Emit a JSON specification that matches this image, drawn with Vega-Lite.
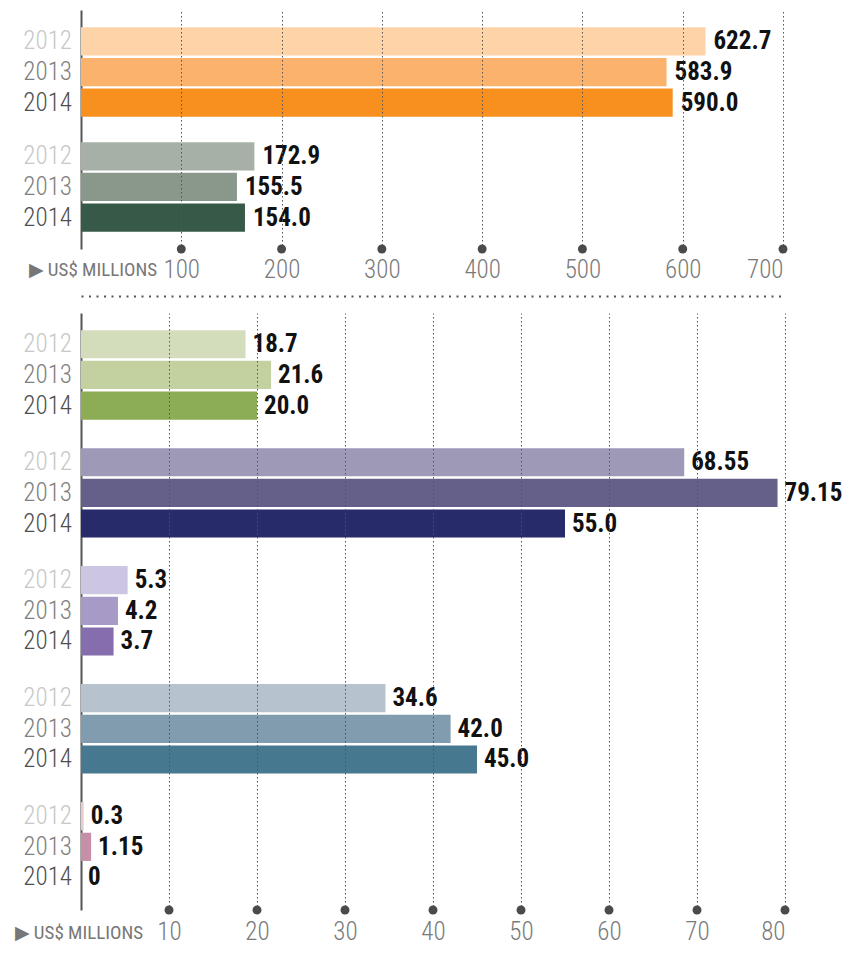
{
  "$schema": "https://vega.github.io/schema/vega-lite/v6.json",
  "background": "white",
  "padding": {"left": 14, "top": 10, "right": 5, "bottom": 5},
  "spacing": 14,
  "resolve": {"scale": {"color": "independent"}},
  "config": {
    "view": {"stroke": null},
    "font": "'Roboto Condensed', Roboto, sans-serif"
  },
  "datasets": {
    "top": [
      {"group": "A", "year": "2012", "id": "A2012", "value": 622.7, "label": "622.7"},
      {"group": "A", "year": "2013", "id": "A2013", "value": 583.9, "label": "583.9"},
      {"group": "A", "year": "2014", "id": "A2014", "value": 590.0, "label": "590.0"},
      {"group": "B", "year": "2012", "id": "B2012", "value": 172.9, "label": "172.9"},
      {"group": "B", "year": "2013", "id": "B2013", "value": 155.5, "label": "155.5"},
      {"group": "B", "year": "2014", "id": "B2014", "value": 163.5, "label": "154.0"}
    ],
    "bottom": [
      {"group": "C", "year": "2012", "id": "C2012", "value": 18.7, "label": "18.7"},
      {"group": "C", "year": "2013", "id": "C2013", "value": 21.6, "label": "21.6"},
      {"group": "C", "year": "2014", "id": "C2014", "value": 20.0, "label": "20.0"},
      {"group": "D", "year": "2012", "id": "D2012", "value": 68.55, "label": "68.55"},
      {"group": "D", "year": "2013", "id": "D2013", "value": 79.15, "label": "79.15"},
      {"group": "D", "year": "2014", "id": "D2014", "value": 55.0, "label": "55.0"},
      {"group": "E", "year": "2012", "id": "E2012", "value": 5.3, "label": "5.3"},
      {"group": "E", "year": "2013", "id": "E2013", "value": 4.2, "label": "4.2"},
      {"group": "E", "year": "2014", "id": "E2014", "value": 3.7, "label": "3.7"},
      {"group": "F", "year": "2012", "id": "F2012", "value": 34.6, "label": "34.6"},
      {"group": "F", "year": "2013", "id": "F2013", "value": 42.0, "label": "42.0"},
      {"group": "F", "year": "2014", "id": "F2014", "value": 45.0, "label": "45.0"},
      {"group": "G", "year": "2012", "id": "G2012", "value": 0.3, "label": "0.3"},
      {"group": "G", "year": "2013", "id": "G2013", "value": 1.15, "label": "1.15"},
      {"group": "G", "year": "2014", "id": "G2014", "value": 0, "label": "0"}
    ],
    "topTicks": [{"value": 100}, {"value": 200}, {"value": 300}, {"value": 400}, {"value": 500}, {"value": 600}, {"value": 700}],
    "bottomTicks": [{"value": 10}, {"value": 20}, {"value": 30}, {"value": 40}, {"value": 50}, {"value": 60}, {"value": 70}, {"value": 80}]
  },
  "vconcat": [
    {
      "width": 702,
      "height": 239,
      "resolve": {"axis": {"x": "independent"}},
      "layer": [
        {
          "data": {"name": "topTicks"},
          "mark": {"type": "circle", "size": 80, "color": "#4a4a4a", "opacity": 1},
          "encoding": {
            "x": {"field": "value", "type": "quantitative", "scale": {"domain": [0, 700], "nice": false}, "axis": null},
            "y": {"value": "height"}
          }
        },
        {
          "data": {"name": "top"},
          "mark": {"type": "bar"},
          "encoding": {
            "x": {"field": "value", "type": "quantitative", "scale": {"domain": [0, 700], "nice": false},
              "axis": {"values": [100, 200, 300, 400, 500, 600, 700], "orient": "bottom", "domain": false, "ticks": false,
                "grid": true, "gridDash": [1.5, 2.5], "gridColor": "#555", "gridWidth": 1, "zindex": 1,
                "labelFontSize": 25, "labelFontWeight": 300, "labelColor": "#7a7a7a", "labelPadding": 8,
                "title": "▶ US$ MILLIONS", "titleFontSize": 19, "titleFontWeight": "normal", "titleColor": "#777",
                "titleX": -53, "titleY": 20, "titleAlign": "left", "titleBaseline": "middle", "titleAnchor": "start"}},
            "y": {"field": "group", "type": "nominal", "scale": {"domain": ["A", "B"], "paddingInner": 0.2, "paddingOuter": 0.14},
              "axis": {"labels": false, "ticks": false, "title": null, "domain": true, "domainColor": "#555", "domainWidth": 2, "grid": false}},
            "yOffset": {"field": "year", "type": "nominal", "scale": {"domain": ["2012", "2013", "2014"], "paddingInner": 0.08, "paddingOuter": 0.04}},
            "color": {"field": "id", "type": "nominal", "legend": null,
              "scale": {"domain": ["A2012", "A2013", "A2014", "B2012", "B2013", "B2014"],
                "range": ["#fdd3a7", "#fab26d", "#f7901e", "#a7b0a7", "#8a978b", "#375a48"]}}
          }
        },
        {
          "data": {"name": "top"},
          "mark": {"type": "text", "align": "right", "baseline": "middle", "dx": -9, "fontSize": 25, "fontWeight": 300},
          "encoding": {
            "x": {"datum": 0, "type": "quantitative", "axis": null},
            "y": {"field": "group", "type": "nominal",
              "axis": {"labels": false, "ticks": false, "title": null, "domain": true, "domainColor": "#555", "domainWidth": 2, "grid": false}},
            "yOffset": {"field": "year", "type": "nominal"},
            "text": {"field": "year"},
            "color": {"condition": [{"test": "datum.year == '2012'", "value": "#c8c8c8"}, {"test": "datum.year == '2013'", "value": "#808080"}], "value": "#4f4f4f"}
          }
        },
        {
          "data": {"name": "top"},
          "mark": {"type": "text", "align": "left", "baseline": "middle", "dx": 8, "fontSize": 25, "fontWeight": "bold", "color": "#111"},
          "encoding": {
            "x": {"field": "value", "type": "quantitative", "axis": null},
            "y": {"field": "group", "type": "nominal",
              "axis": {"labels": false, "ticks": false, "title": null, "domain": true, "domainColor": "#555", "domainWidth": 2, "grid": false}},
            "yOffset": {"field": "year", "type": "nominal"},
            "text": {"field": "label"}
          }
        }
      ]
    },
    {
      "width": 704,
      "height": 597,
      "resolve": {"axis": {"x": "independent"}},
      "layer": [
        {
          "data": {"name": "bottomTicks"},
          "mark": {"type": "circle", "size": 80, "color": "#4a4a4a", "opacity": 1},
          "encoding": {
            "x": {"field": "value", "type": "quantitative", "scale": {"domain": [0, 80], "nice": false},
              "axis": {"orient": "top", "offset": 17, "domain": true, "domainDash": [2, 5.5], "domainWidth": 2, "domainColor": "#555",
                "labels": false, "ticks": false, "grid": false, "title": null}},
            "y": {"value": "height"}
          }
        },
        {
          "data": {"name": "bottom"},
          "mark": {"type": "bar"},
          "encoding": {
            "x": {"field": "value", "type": "quantitative", "scale": {"domain": [0, 80], "nice": false},
              "axis": {"values": [10, 20, 30, 40, 50, 60, 70, 80], "orient": "bottom", "domain": false, "ticks": false,
                "grid": true, "gridDash": [1.5, 2.5], "gridColor": "#555", "gridWidth": 1, "zindex": 1,
                "labelFontSize": 25, "labelFontWeight": 300, "labelColor": "#7a7a7a", "labelPadding": 9,
                "title": "▶ US$ MILLIONS", "titleFontSize": 19, "titleFontWeight": "normal", "titleColor": "#777",
                "titleX": -67, "titleY": 22, "titleAlign": "left", "titleBaseline": "middle", "titleAnchor": "start"}},
            "y": {"field": "group", "type": "nominal", "scale": {"domain": ["C", "D", "E", "F", "G"], "paddingInner": 0.21, "paddingOuter": 0.135},
              "axis": {"labels": false, "ticks": false, "title": null, "domain": true, "domainColor": "#555", "domainWidth": 2, "grid": false}},
            "yOffset": {"field": "year", "type": "nominal", "scale": {"domain": ["2012", "2013", "2014"], "paddingInner": 0.08, "paddingOuter": 0.04}},
            "color": {"field": "id", "type": "nominal", "legend": null,
              "scale": {"domain": ["C2012", "C2013", "C2014", "D2012", "D2013", "D2014", "E2012", "E2013", "E2014", "F2012", "F2013", "F2014", "G2012", "G2013", "G2014"],
                "range": ["#d4ddbb", "#c3d0a0", "#8cac55", "#9f99b8", "#646089", "#282b69", "#cdc6e2", "#a89ac7", "#866eae", "#b6c3cf", "#809cae", "#46788f", "#e8c9d6", "#c78ea8", "#9e5a7a"]}}
          }
        },
        {
          "data": {"name": "bottom"},
          "mark": {"type": "text", "align": "right", "baseline": "middle", "dx": -9, "fontSize": 25, "fontWeight": 300},
          "encoding": {
            "x": {"datum": 0, "type": "quantitative", "axis": null},
            "y": {"field": "group", "type": "nominal",
              "axis": {"labels": false, "ticks": false, "title": null, "domain": true, "domainColor": "#555", "domainWidth": 2, "grid": false}},
            "yOffset": {"field": "year", "type": "nominal"},
            "text": {"field": "year"},
            "color": {"condition": [{"test": "datum.year == '2012'", "value": "#c8c8c8"}, {"test": "datum.year == '2013'", "value": "#808080"}], "value": "#4f4f4f"}
          }
        },
        {
          "data": {"name": "bottom"},
          "mark": {"type": "text", "align": "left", "baseline": "middle", "dx": 7, "fontSize": 25, "fontWeight": "bold", "color": "#111"},
          "encoding": {
            "x": {"field": "value", "type": "quantitative", "axis": null},
            "y": {"field": "group", "type": "nominal",
              "axis": {"labels": false, "ticks": false, "title": null, "domain": true, "domainColor": "#555", "domainWidth": 2, "grid": false}},
            "yOffset": {"field": "year", "type": "nominal"},
            "text": {"field": "label"}
          }
        }
      ]
    }
  ]
}
